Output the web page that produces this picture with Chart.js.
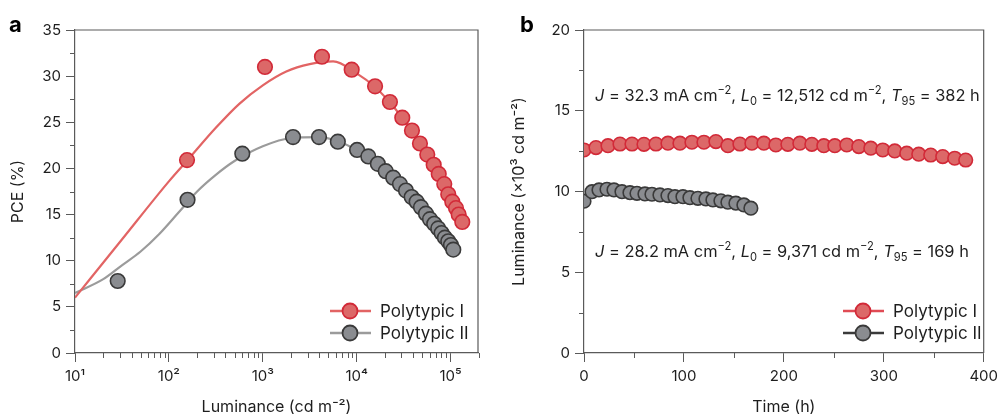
<!DOCTYPE html>
<html>
<head>
<meta charset="utf-8">
<script src="https://cdn.jsdelivr.net/npm/chart.js@4.4.1/dist/chart.umd.min.js"></script>
<style>
  body { margin: 0; background: #fff; width: 1003px; height: 417px; overflow: hidden; position: relative; }
  canvas { position: absolute; top: 0; }
  #chartA { left: 0; }
  #chartB { left: 500px; }
</style>
</head>
<body>
<canvas id="chartA" width="490" height="417"></canvas>
<canvas id="chartB" width="503" height="417"></canvas>
<script>
// panel a: PCE vs luminance (points)
var pceLumI = [156, 1055, 4270, 8850, 15700, 22600, 30600, 38800, 47200, 56500, 66100, 74800, 85700, 94500, 104300, 114200, 122000, 133300];
var pceI = [20.9, 31.0, 32.1, 30.7, 28.9, 27.2, 25.5, 24.1, 22.7, 21.5, 20.4, 19.4, 18.3, 17.2, 16.4, 15.7, 15.0, 14.2];
var pceLumII = [28.5, 158, 605, 2100, 3970, 6300, 10100, 13300, 16800, 20400, 24500, 28900, 33500, 38500, 43500, 48400, 54700, 60400, 67000, 73900, 80300, 87100, 94500, 101000, 106900];
var pceII = [7.8, 16.6, 21.6, 23.4, 23.4, 22.9, 22.0, 21.3, 20.5, 19.7, 19.0, 18.3, 17.6, 16.9, 16.4, 15.8, 15.1, 14.5, 14.0, 13.5, 13.0, 12.5, 12.1, 11.7, 11.2];

// panel a: fitted curves
var fitLumI = [10, 31.6, 100, 158, 316, 562, 1000, 1780, 3160, 5620, 10000, 15800, 25100, 39800, 63100, 100000, 133000];
var fitI = [6.0, 12.3, 18.6, 20.9, 24.4, 27.0, 29.0, 30.5, 31.3, 31.6, 30.3, 28.8, 26.6, 23.9, 20.7, 16.9, 14.2];
var fitLumII = [10, 20, 31.6, 50, 79, 126, 200, 316, 500, 1000, 2000, 4000, 6300, 10000, 15800, 25100, 39800, 63100, 107000];
var fitII = [6.5, 8.0, 9.5, 11.0, 12.9, 15.2, 17.5, 19.3, 20.8, 22.4, 23.3, 23.4, 22.95, 22.0, 20.7, 18.9, 16.8, 14.3, 11.2];

// panel b: luminance (x10^3 cd m-2) vs time (h)
var timeI = [0, 12, 24, 36, 48, 60, 72, 84, 96, 108, 120, 132, 144, 156, 168, 180, 192, 204, 216, 228, 240, 251, 263, 275, 287, 299, 311, 323, 335, 347, 359, 371, 382];
var lumI = [12.57, 12.72, 12.84, 12.94, 12.94, 12.92, 12.94, 12.99, 12.99, 13.05, 13.05, 13.09, 12.84, 12.94, 12.99, 12.99, 12.88, 12.92, 12.99, 12.92, 12.84, 12.84, 12.88, 12.78, 12.68, 12.57, 12.51, 12.37, 12.31, 12.26, 12.16, 12.06, 11.95];
var timeII = [0, 8, 15, 23, 30, 38, 46, 53, 61, 68, 76, 84, 91, 99, 106, 114, 122, 129, 137, 144, 152, 160, 167];
var lumII = [9.4, 9.99, 10.1, 10.14, 10.1, 9.99, 9.93, 9.89, 9.85, 9.83, 9.79, 9.75, 9.68, 9.68, 9.62, 9.58, 9.54, 9.48, 9.42, 9.34, 9.28, 9.17, 8.97];

var seriesNames = ['Polytypic I', 'Polytypic II'];
var decadeTicks = [10, 100, 1000, 10000, 100000];
var decadeLabels = ['10\u00b9', '10\u00b2', '10\u00b3', '10\u2074', '10\u2075'];

var FONT = 'Inter, "Liberation Sans", sans-serif';
var AXIS = '#5a5a5a';
var TEXT = '#1e1e1e';
var RED_FILL = '#dc6868', RED_EDGE = '#d22a38', RED_LINE = '#e26464';
var GREY_FILL = '#8a8c90', GREY_EDGE = '#3a3a3a', GREY_LINE = '#9b9b9b';

Chart.defaults.font.family = FONT;
Chart.defaults.color = TEXT;

function pts(xs, ys) {
  var out = [];
  for (var i = 0; i < xs.length; i++) out.push({ x: xs[i], y: ys[i] });
  return out;
}

// draw text runs: {t, i (italic), sup, sub}
function drawRuns(ctx, runs, x, y, size) {
  ctx.textBaseline = 'alphabetic';
  ctx.textAlign = 'left';
  ctx.fillStyle = TEXT;
  runs.forEach(function (r) {
    var s = r.sup || r.sub ? size * 0.68 : size;
    ctx.font = (r.i ? 'italic ' : '') + s + 'px ' + FONT;
    var dy = r.sup ? -size * 0.42 : (r.sub ? size * 0.22 : 0);
    ctx.fillText(r.t, x, y + dy);
    x += ctx.measureText(r.t).width;
  });
}

var extras = {
  id: 'extras',
  afterDraw: function (chart) {
    var o = chart.options.plugins.extras;
    var ctx = chart.ctx, a = chart.chartArea;
    var xs = chart.scales.x, ys = chart.scales.y;
    ctx.save();
    // frame top and right
    ctx.strokeStyle = AXIS;
    ctx.lineWidth = 1.2;
    ctx.beginPath();
    ctx.moveTo(a.left, a.top); ctx.lineTo(a.right, a.top); ctx.lineTo(a.right, a.bottom);
    ctx.stroke();
    // minor ticks
    ctx.lineWidth = 1;
    ctx.beginPath();
    o.minorY.forEach(function (v) {
      var p = Math.round(ys.getPixelForValue(v)) + 0.5;
      ctx.moveTo(a.left - 5, p); ctx.lineTo(a.left, p);
    });
    o.minorX.forEach(function (v) {
      var p = Math.round(xs.getPixelForValue(v)) + 0.5;
      ctx.moveTo(p, a.bottom); ctx.lineTo(p, a.bottom + 5);
    });
    ctx.stroke();
    // panel letter
    ctx.fillStyle = '#000';
    ctx.font = 'bold 22px ' + FONT;
    ctx.textBaseline = 'alphabetic';
    ctx.fillText(o.letter, o.letterX, 32);
    // legend
    var lg = o.legend;
    [0, 1].forEach(function (k) {
      var y = lg.y + k * lg.gap;
      ctx.strokeStyle = k ? lg.lineII : lg.lineI;
      ctx.lineWidth = 2.5;
      ctx.beginPath(); ctx.moveTo(lg.x, y); ctx.lineTo(lg.x + 41, y); ctx.stroke();
      ctx.beginPath(); ctx.arc(lg.x + 20, y, 7.5, 0, Math.PI * 2);
      ctx.fillStyle = k ? GREY_FILL : RED_FILL; ctx.fill();
      ctx.lineWidth = 1.8; ctx.strokeStyle = k ? GREY_EDGE : RED_EDGE; ctx.stroke();
      ctx.fillStyle = TEXT;
      ctx.font = '17px ' + FONT;
      ctx.textBaseline = 'middle';
      ctx.fillText(seriesNames[k], lg.x + 50, y + 1);
    });
    // annotations
    (o.notes || []).forEach(function (n) {
      drawRuns(ctx, n.runs, xs.getPixelForValue(n.x), ys.getPixelForValue(n.y), 16.4);
    });
    ctx.restore();
  }
};

function pointSet(label, data, fill, edge, r, order) {
  return {
    label: label, data: data, showLine: false, order: order,
    pointRadius: r, pointHoverRadius: r, pointBackgroundColor: fill,
    pointBorderColor: edge, pointBorderWidth: 1.6
  };
}
function curveSet(data, color, order) {
  return {
    type: 'line', label: '', data: data, order: order, pointRadius: 0,
    borderColor: color, borderWidth: 2.2, fill: false,
    cubicInterpolationMode: 'monotone'
  };
}

function axisCommon(extra) {
  var base = {
    border: { display: true, color: AXIS, width: 1.2 },
    grid: { drawOnChartArea: false, color: AXIS, tickLength: 9, tickColor: AXIS },
    ticks: { color: TEXT, font: { size: 15 }, padding: 4, maxRotation: 0 },
    title: { display: true, color: TEXT, font: { size: 16 } }
  };
  for (var k in extra) base[k] = extra[k];
  return base;
}

var minorLog = [];
[10, 100, 1000, 10000, 100000].forEach(function (d) {
  for (var m = 2; m <= 9; m++) if (d * m <= 200000) minorLog.push(d * m);
});
var minorPce = [];
for (var v = 2.5; v < 35; v += 5) minorPce.push(v);
var minorLum = [2.5, 7.5, 12.5, 17.5];
var minorTime = [50, 150, 250, 350];

new Chart(document.getElementById('chartA'), {
  type: 'scatter',
  data: {
    datasets: [
      pointSet(seriesNames[0], pts(pceLumI, pceI), RED_FILL, RED_EDGE, 7.3, 0),
      pointSet(seriesNames[1], pts(pceLumII, pceII), GREY_FILL, GREY_EDGE, 7.3, 1),
      curveSet(pts(fitLumI, fitI), RED_LINE, 2),
      curveSet(pts(fitLumII, fitII), GREY_LINE, 3)
    ]
  },
  options: {
    responsive: false, animation: false,
    layout: { padding: { left: 0, top: 30, right: 12, bottom: 0 } },
    plugins: {
      legend: { display: false }, tooltip: { enabled: false },
      extras: {
        letter: 'a', letterX: 9, minorY: minorPce, minorX: minorLog,
        legend: { x: 330, y: 311, gap: 22, lineI: RED_LINE, lineII: GREY_LINE }
      }
    },
    scales: {
      x: axisCommon({
        type: 'logarithmic', min: 10, max: 196000,
        afterBuildTicks: function (s) { s.ticks = decadeTicks.map(function (v) { return { value: v }; }); },
        afterFit: function (s) { s.height = 64; },
        ticks: { color: TEXT, font: { size: 15 }, padding: 5, maxRotation: 0, autoSkip: false,
          callback: function (v) { var i = decadeTicks.indexOf(v); return i < 0 ? '' : decadeLabels[i]; } },
        title: { display: true, text: 'Luminance (cd m\u207b\u00b2)', color: TEXT, font: { size: 16 }, padding: { top: 0, bottom: 0 } }
      }),
      y: axisCommon({
        min: 0, max: 35,
        afterFit: function (s) { s.width = 75; },
        ticks: { color: TEXT, font: { size: 15 }, padding: 5, stepSize: 5 },
        title: { display: true, text: 'PCE (%)', color: TEXT, font: { size: 16 }, padding: { top: 9, bottom: 0 } }
      })
    }
  },
  plugins: [extras]
});

new Chart(document.getElementById('chartB'), {
  type: 'scatter',
  data: {
    datasets: [
      pointSet(seriesNames[0], pts(timeI, lumI), RED_FILL, RED_EDGE, 6.8, 0),
      pointSet(seriesNames[1], pts(timeII, lumII), GREY_FILL, GREY_EDGE, 6.8, 1)
    ]
  },
  options: {
    responsive: false, animation: false,
    layout: { padding: { left: 0, top: 30, right: 14, bottom: 0 } },
    plugins: {
      legend: { display: false }, tooltip: { enabled: false },
      extras: {
        letter: 'b', letterX: 20, minorY: minorLum, minorX: minorTime,
        legend: { x: 343, y: 311, gap: 22, lineI: '#e04b55', lineII: '#3a3a3a' },
        notes: [
          { x: 11, y: 15.6, runs: [{ t: 'J', i: true }, { t: ' = 32.3 mA cm' }, { t: '\u22122', sup: true }, { t: ', ' }, { t: 'L', i: true }, { t: '0', sub: true }, { t: ' = 12,512 cd m' }, { t: '\u22122', sup: true }, { t: ', ' }, { t: 'T', i: true }, { t: '95', sub: true }, { t: ' = 382 h' }] },
          { x: 11, y: 5.95, runs: [{ t: 'J', i: true }, { t: ' = 28.2 mA cm' }, { t: '\u22122', sup: true }, { t: ', ' }, { t: 'L', i: true }, { t: '0', sub: true }, { t: ' = 9,371 cd m' }, { t: '\u22122', sup: true }, { t: ', ' }, { t: 'T', i: true }, { t: '95', sub: true }, { t: ' = 169 h' }] }
        ]
      }
    },
    scales: {
      x: axisCommon({
        min: 0, max: 400,
        afterFit: function (s) { s.height = 64; },
        ticks: { color: TEXT, font: { size: 15 }, padding: 5, stepSize: 100, maxRotation: 0 },
        title: { display: true, text: 'Time (h)', color: TEXT, font: { size: 16 }, padding: { top: 0, bottom: 0 } }
      }),
      y: axisCommon({
        min: 0, max: 20,
        afterFit: function (s) { s.width = 84; },
        ticks: { color: TEXT, font: { size: 15 }, padding: 5, stepSize: 5 },
        title: { display: true, text: 'Luminance (\u00d710\u00b3 cd m\u207b\u00b2)', color: TEXT, font: { size: 16 }, padding: { top: 10, bottom: 0 } }
      })
    }
  },
  plugins: [extras]
});
</script>
</body>
</html>
